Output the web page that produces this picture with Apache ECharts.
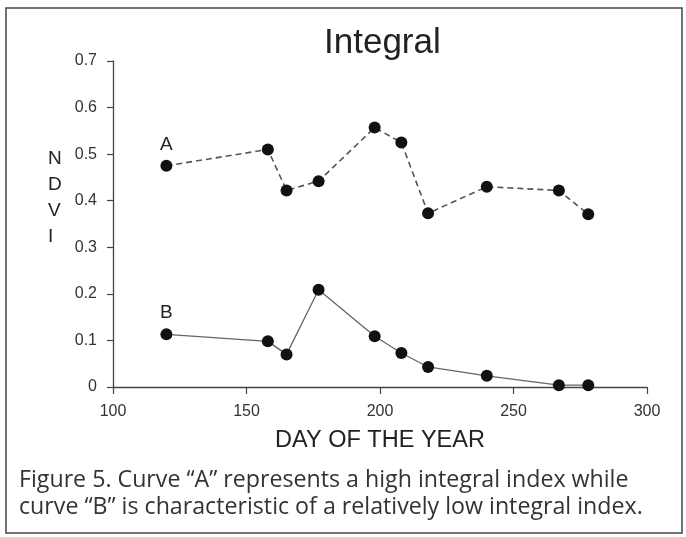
<!DOCTYPE html>
<html>
<head>
<meta charset="utf-8">
<style>html,body{margin:0;padding:0;background:#fff}#c{width:686px;height:537px}</style>
<script src="https://cdn.jsdelivr.net/npm/echarts@6/dist/echarts.min.js"></script>
</head>
<body>
<div id="c"></div>
<script>
const days = [120, 158, 165, 177, 198, 208, 218, 240, 267, 278];
const curveA = [0.475, 0.51, 0.422, 0.442, 0.557, 0.525, 0.373, 0.430, 0.422, 0.371];
const curveB = [0.113, 0.098, 0.070, 0.209, 0.109, 0.073, 0.043, 0.024, 0.004, 0.004];
const xTicks = [100, 150, 200, 250, 300];
const yTicks = [0, 0.1, 0.2, 0.3, 0.4, 0.5, 0.6, 0.7];
const titleText = 'Integral';
const xName = 'DAY OF THE YEAR';
const yName = 'N\nD\nV\nI';
const captionLines = [
  'Figure 5. Curve \u201cA\u201d represents a high integral index while',
  'curve \u201cB\u201d is characteristic of a relatively low integral index.'
];

const chart = echarts.init(document.getElementById('c'), null, {renderer: 'canvas'});
const axisCol = '#444';
const font = 'Liberation Sans, Arial, sans-serif';

function mkSeries(name, vals, dashed, letter) {
  return {
    name: name,
    type: 'line',
    data: days.map((d, i) => ({
      value: [d, vals[i]],
      label: i === 0 ? {show: true, formatter: letter, position: 'top', distance: 6,
        fontSize: 19, color: '#222', fontFamily: font} : {show: false}
    })),
    symbol: 'circle',
    symbolSize: 12,
    itemStyle: {color: '#111'},
    lineStyle: {color: dashed ? '#555' : '#666', width: dashed ? 1.6 : 1.3,
      type: dashed ? [6, 4] : 'solid'},
    z: 3,
    animation: false
  };
}

chart.setOption({
  animation: false,
  backgroundColor: '#fff',
  title: {
    text: titleText, left: 319, top: 21,
    textStyle: {fontSize: 35, fontWeight: 'normal', color: '#222', fontFamily: font}
  },
  grid: {left: 113, right: 39, top: 61, bottom: 150, containLabel: false},
  xAxis: {
    type: 'value', min: xTicks[0], max: xTicks[xTicks.length - 1], interval: 50,
    name: xName, nameLocation: 'middle', nameGap: 42,
    nameTextStyle: {fontSize: 23.5, color: '#222', fontFamily: font},
    axisLine: {show: true, lineStyle: {color: axisCol, width: 1.3}},
    axisTick: {show: true, length: 7, lineStyle: {color: axisCol, width: 1.2}},
    axisLabel: {fontSize: 16, color: '#333', margin: 17, fontFamily: font},
    splitLine: {show: false}
  },
  yAxis: {
    type: 'value', min: yTicks[0], max: yTicks[yTicks.length - 1], interval: 0.1,
    axisLine: {show: true, lineStyle: {color: axisCol, width: 1.3}},
    axisTick: {show: true, length: 6, lineStyle: {color: axisCol, width: 1.2}},
    axisLabel: {fontSize: 16, color: '#333', margin: 16, fontFamily: font,
      formatter: v => (Math.round(v * 10) / 10).toString()},
    splitLine: {show: false}
  },
  series: [mkSeries('A', curveA, true, 'A'), mkSeries('B', curveB, false, 'B')],
  graphic: [
    {type: 'rect', shape: {x: 6, y: 8, width: 676, height: 525},
      style: {fill: 'none', stroke: '#444', lineWidth: 1.5}, z: -1},
    {type: 'text', left: 48, top: 146,
      style: {text: yName, fontSize: 19, lineHeight: 26, fill: '#222', fontFamily: font, align: 'center'}},
    {type: 'text', left: 19, top: 467,
      style: {text: captionLines.join('\n'), fontSize: 23.2, lineHeight: 27, fill: '#333',
        fontFamily: 'Open Sans, Liberation Sans, sans-serif'}}
  ]
});
</script>
</body>
</html>
